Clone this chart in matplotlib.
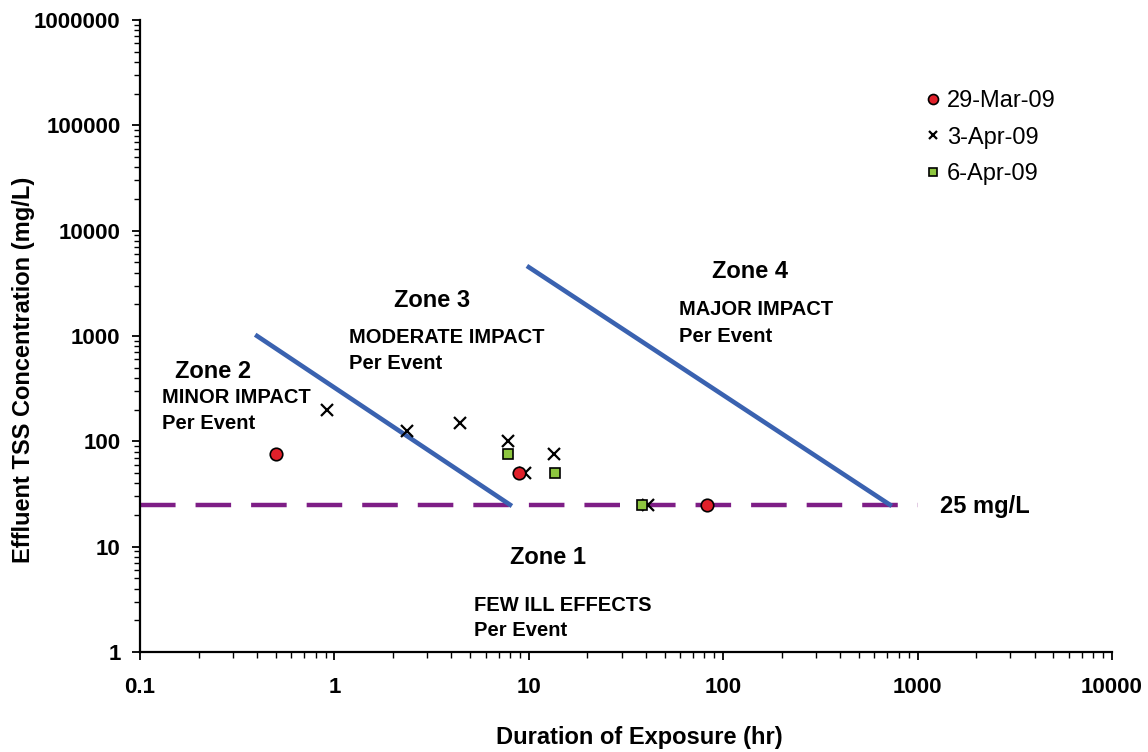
import matplotlib
matplotlib.use("Agg")
import matplotlib.pyplot as plt
from matplotlib.ticker import LogLocator, NullFormatter

plt.rcParams['font.family'] = ['Liberation Sans', 'DejaVu Sans']

# Data
mar29_x = [0.5, 8.85, 83]
mar29_y = [75, 50, 25]
apr3_x = [0.92, 2.36, 4.4, 7.8, 9.6, 13.4, 41]
apr3_y = [200, 125, 150, 100, 50, 75, 25]
apr6_x = [7.8, 13.7, 38]
apr6_y = [75, 50, 25]

zone_line1_x = [0.4, 8]
zone_line1_y = [1000, 25]
zone_line2_x = [10, 720]
zone_line2_y = [4500, 25]
threshold_x = [0.1, 1000]
threshold_y = [25, 25]

xticks = [0.1, 1, 10, 100, 1000, 10000]
xticklabels = ['0.1', '1', '10', '100', '1000', '10000']
yticks = [1, 10, 100, 1000, 10000, 100000, 1000000]
yticklabels = ['1', '10', '100', '1000', '10000', '100000', '1000000']

fig = plt.figure(figsize=(11.48, 7.52), dpi=100)
ax = fig.add_axes([0.122, 0.133, 0.8466, 0.8404])
ax.set_xscale('log')
ax.set_yscale('log')
ax.set_xlim(0.1, 10000)
ax.set_ylim(1, 1000000)

purple = '#7E1E86'
blue = '#3A62B0'

ax.plot(threshold_x, threshold_y, color=purple, lw=3.2, dashes=(8, 4.5), zorder=2)
ax.plot(zone_line1_x, zone_line1_y, color=blue, lw=3.3, zorder=3)
ax.plot(zone_line2_x, zone_line2_y, color=blue, lw=3.3, zorder=3)

ax.plot(mar29_x, mar29_y, 'o', ms=9, mfc='#E0202A', mec='black', mew=1.2,
        linestyle='none', label='29-Mar-09', zorder=5)
ax.plot(apr3_x, apr3_y, 'x', ms=8, mec='black', mew=1.6,
        linestyle='none', label='3-Apr-09', zorder=4)
ax.plot(apr6_x, apr6_y, 's', ms=7, mfc='#8DC63F', mec='black', mew=1.2,
        linestyle='none', label='6-Apr-09', zorder=5)


def px(xp, yp):
    # convert reference pixel coordinates to axes fraction
    return ((xp - 140) / 972.0, (652 - yp) / 632.0)


leg = ax.legend(loc='upper left', bbox_to_anchor=px(922, 90), frameon=False,
                fontsize=17, handletextpad=0.15, handlelength=0.9,
                labelspacing=0.62, markerscale=0.8, borderpad=0,
                borderaxespad=0)

ax.set_xticks(xticks)
ax.set_xticklabels(xticklabels)
ax.set_yticks(yticks)
ax.set_yticklabels(yticklabels)
ax.xaxis.set_minor_locator(LogLocator(base=10, subs=range(2, 10), numticks=50))
ax.yaxis.set_minor_locator(LogLocator(base=10, subs=range(2, 10), numticks=50))
ax.xaxis.set_minor_formatter(NullFormatter())
ax.yaxis.set_minor_formatter(NullFormatter())

ax.tick_params(axis='both', which='major', direction='out', length=6, width=1.3,
               labelsize=16)
ax.tick_params(axis='both', which='minor', direction='out', length=4, width=1)
for lab in ax.get_xticklabels() + ax.get_yticklabels():
    lab.set_fontweight('bold')
ax.tick_params(axis='x', which='major', pad=12)
ax.tick_params(axis='y', which='major', pad=8)

for side in ['top', 'right']:
    ax.spines[side].set_visible(False)
for side in ['left', 'bottom']:
    ax.spines[side].set_linewidth(1.6)

ax.set_xlabel('Duration of Exposure (hr)', fontsize=17, fontweight='bold')
ax.set_ylabel('Effluent TSS Concentration (mg/L)', fontsize=17, fontweight='bold')
ax.xaxis.set_label_coords(*px(639, 738))
ax.yaxis.set_label_coords(*px(23, 370))
ax.xaxis.label.set_va('center')
ax.yaxis.label.set_va('center')

tz = dict(fontsize=17, fontweight='bold', ha='center', va='center')
ts = dict(fontsize=14.5, fontweight='bold', ha='left', va='center')

ax.text(*px(750, 272), 'Zone 4', transform=ax.transAxes, **tz)
ax.text(*px(679, 310), 'MAJOR IMPACT', transform=ax.transAxes, **ts)
ax.text(*px(679, 337), 'Per Event', transform=ax.transAxes, **ts)

ax.text(*px(432, 301), 'Zone 3', transform=ax.transAxes, **tz)
ax.text(*px(349, 338), 'MODERATE IMPACT', transform=ax.transAxes, **ts)
ax.text(*px(349, 364), 'Per Event', transform=ax.transAxes, **ts)

ax.text(*px(213, 372), 'Zone 2', transform=ax.transAxes, **tz)
ax.text(*px(162, 398), 'MINOR IMPACT', transform=ax.transAxes, **ts)
ax.text(*px(162, 424), 'Per Event', transform=ax.transAxes, **ts)

ax.text(*px(548, 558), 'Zone 1', transform=ax.transAxes, **tz)
ax.text(*px(474, 606), 'FEW ILL EFFECTS', transform=ax.transAxes, **ts)
ax.text(*px(474, 631), 'Per Event', transform=ax.transAxes, **ts)

ax.text(*px(940, 507), '25 mg/L', transform=ax.transAxes, fontsize=17,
        fontweight='bold', ha='left', va='center')

fig.savefig('out.png', dpi=100)
